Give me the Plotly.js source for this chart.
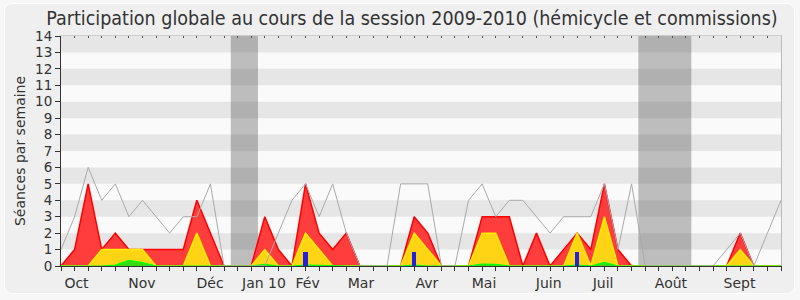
<!DOCTYPE html>
<html>
<head>
<meta charset="utf-8">
<script src="https://cdn.plot.ly/plotly-3.0.1.min.js"></script>
<style>
  html, body { margin: 0; padding: 0; background: #f7f7f7; }
  #frame { position: absolute; left: 4px; top: 3px; width: 789px; height: 289px;
           border: 1px solid #ffffff; border-radius: 8px; background: #efefef; }
  #chart { position: absolute; left: 0; top: 0; width: 800px; height: 300px; }
</style>
</head>
<body>
<div id="frame"></div>
<div id="chart"></div>
<script>
// Weeks of the session (index 0..53)
const weeks = Array.from({length: 54}, (_, i) => i);

// Total sessions per week (grey line)
const total = [1,3,6,4,5,3,4,3,2,3,3,5,0,0,0,0,2,4,5,3,5,2,0,0,0,5,5,5,0,0,4,5,3,4,4,3,2,3,3,3,5,1,5,0,0,0,0,0,0,1,2,0,2,4];
// Presence (red area)
const presence = [0,1,5,1,2,1,1,1,1,1,4,2,0,0,0,3,1,0,5,2,1,2,0,0,0,0,3,2,0,0,0,3,3,3,0,2,0,1,2,1,5,1,0,0,0,0,0,0,0,0,2,0,0,0];
// Commission presence (yellow area)
const commission = [0,0,0,1,1,1,1,0,0,0,2,0,0,0,0,1,0,0,2,1,0,0,0,0,0,0,2,1,0,0,0,2,2,0,0,0,0,0,2,0,3,0,0,0,0,0,0,0,0,0,1,0,0,0];
// Interventions (green area)
const interventions = [0,0,0,0,0.05,0.35,0.2,0,0,0,0.03,0,0,0,0,0.1,0,0,0.05,0.04,0,0,0,0,0,0,0.05,0,0,0,0,0.12,0.1,0,0,0,0,0,0.05,0,0.22,0,0,0,0,0,0,0,0,0,0,0,0,0];
// Questions (blue bars)
const questionWeeks = [18, 26, 38];
const questions = [0.85, 0.85, 0.85];

// Holidays (grey bands), in week units
const holidayStart = [12.5, 42.5];
const holidayEnd = [14.5, 46.4];

// Month labels
const monthLabels = ['Oct','Nov','Déc','Jan 10','Fév','Mar','Avr','Mai','Juin','Juil','Août','Sept'];
const monthPos = [1.14, 5.96, 10.97, 14.94, 18.15, 22.08, 26.94, 31.14, 35.9, 39.9, 44.9, 49.94];

const yMax = 14;

const traces = [
  {x: weeks, y: presence, type: 'scatter', mode: 'lines', fill: 'tozeroy',
   line: {color: '#ff0000', width: 1.5}, fillcolor: '#ff3d3d', hoverinfo: 'skip'},
  {x: weeks, y: commission, type: 'scatter', mode: 'lines', fill: 'tozeroy',
   line: {color: '#ffee00', width: 1.5}, fillcolor: '#ffd414', hoverinfo: 'skip'},
  {x: weeks, y: interventions, type: 'scatter', mode: 'lines', fill: 'tozeroy',
   line: {color: '#00ff00', width: 1.2}, fillcolor: '#33dd11', hoverinfo: 'skip'},
  {x: weeks, y: total, type: 'scatter', mode: 'lines',
   line: {color: '#aaaaaa', width: 1}, hoverinfo: 'skip'},
  {x: questionWeeks, y: questions, type: 'bar', width: 0.32, xaxis: 'x2', yaxis: 'y2',
   marker: {color: '#2222dd', line: {width: 0}}, hoverinfo: 'skip'}
];

const shapes = [];
for (let k = 1; k < yMax; k += 2) {
  shapes.push({type: 'rect', xref: 'paper', yref: 'y', x0: 0, x1: 1, y0: k, y1: k + 1,
               fillcolor: '#e6e6e6', line: {width: 0}, layer: 'below'});
}
for (let h = 0; h < holidayStart.length; h++) {
  shapes.push({type: 'rect', xref: 'x', yref: 'paper', x0: holidayStart[h], x1: holidayEnd[h], y0: 0, y1: 1,
               fillcolor: 'rgba(80,80,80,0.36)', line: {width: 0}, layer: 'below'});
}

const fontFam = '"DejaVu Sans", Verdana, sans-serif';

const layout = {
  width: 800, height: 300,
  margin: {l: 61, r: 19, t: 36, b: 34},
  paper_bgcolor: 'rgba(0,0,0,0)',
  plot_bgcolor: '#fafafa',
  showlegend: false,
  title: {text: 'Participation globale au cours de la session 2009-2010 (hémicycle et commissions)',
          font: {family: '"DejaVu Sans Condensed", "DejaVu Sans", sans-serif', size: 19.5, color: '#333333'},
          x: 0.515, xanchor: 'center', y: 0.94, yanchor: 'middle'},
  xaxis: {range: [0, 53], tickmode: 'array', tickvals: weeks, showticklabels: false,
          ticks: 'outside', ticklen: 4, tickcolor: '#333333', tickwidth: 1,
          showgrid: false, zeroline: false, showline: true, linecolor: '#333333', linewidth: 1},
  xaxis2: {range: [0, 53], overlaying: 'x', side: 'bottom', tickmode: 'array',
           tickvals: monthPos, ticktext: monthLabels, ticks: 'outside', ticklen: 4,
           tickcolor: 'rgba(0,0,0,0)', showgrid: false, zeroline: false, showline: false,
           tickfont: {family: fontFam, size: 14, color: '#333333'}},
  xaxis3: {range: [0, 53], overlaying: 'x', side: 'top', tickmode: 'array', tickvals: weeks,
           showticklabels: false, ticks: 'inside', ticklen: 2, tickcolor: '#555555',
           showgrid: false, zeroline: false, showline: true, linecolor: '#cccccc', linewidth: 1},
  yaxis: {range: [0, yMax], tickmode: 'linear', tick0: 0, dtick: 1,
          ticks: 'outside', ticklen: 5, tickcolor: '#333333',
          showgrid: false, zeroline: false, showline: true, linecolor: '#333333', linewidth: 1,
          tickfont: {family: fontFam, size: 13.5, color: '#333333'},
          title: {text: 'Séances par semaine', font: {family: fontFam, size: 14, color: '#333333'}, standoff: 6}},
  yaxis2: {range: [0, yMax], overlaying: 'y', side: 'right', showticklabels: false, ticks: '',
           showgrid: false, zeroline: false, showline: true, linecolor: '#bbbbbb', linewidth: 1},
  shapes: shapes,
  bargap: 0
};

// Invisible trace so the top axis (xaxis3) is drawn
traces.push({x: [0], y: [0], xaxis: 'x3', yaxis: 'y', type: 'scatter', mode: 'markers',
             marker: {opacity: 0}, hoverinfo: 'skip'});

Plotly.newPlot('chart', traces, layout, {displayModeBar: false, staticPlot: true});
</script>
</body>
</html>
